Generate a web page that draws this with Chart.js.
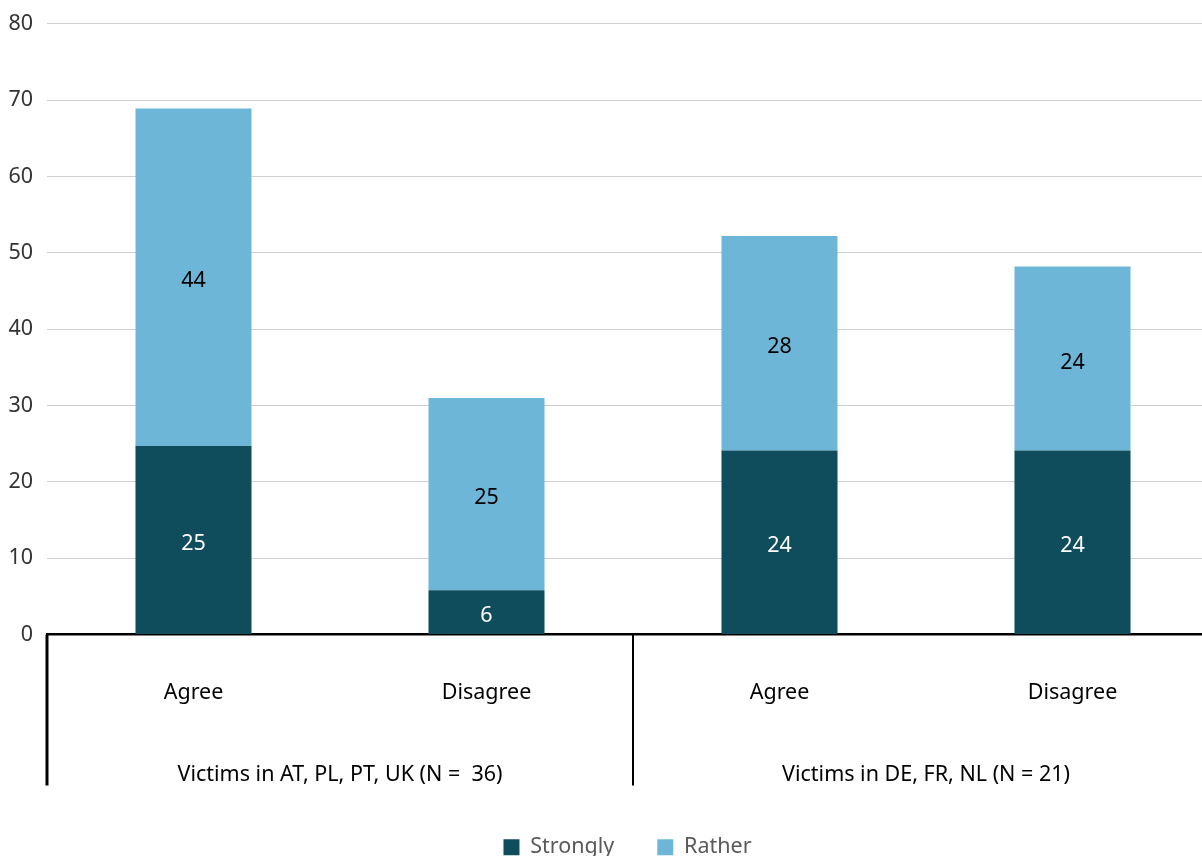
<!DOCTYPE html>
<html>
<head>
<meta charset="utf-8">
<script src="https://cdn.jsdelivr.net/npm/chart.js@4.4.1/dist/chart.umd.min.js"></script>
<style>
  html, body { margin: 0; padding: 0; overflow: hidden; background: #fff; }
  #myChart { display: block; margin-top: -3px; }
</style>
</head>
<body>
<canvas id="myChart" width="1262" height="871"></canvas>
<script>
const answers = ['Agree', 'Disagree', 'Agree', 'Disagree'];
const groups = ['Victims in AT, PL, PT, UK (N =  36)', 'Victims in DE, FR, NL (N = 21)'];
const stronglyValues = [24.7, 5.8, 24.1, 24.1];
const ratherValues = [44.2, 25.2, 28.1, 24.1];
const yTicks = [0, 10, 20, 30, 40, 50, 60, 70, 80];

const FONT = '"Noto Sans", sans-serif';
const SIZE = 21.5;

// numbers in the middle of each bar piece
const valueLabels = {
    id: 'valueLabels',
    afterDatasetsDraw(chart) {
        const c = chart.ctx;
        c.save();
        c.font = SIZE + 'px ' + FONT;
        c.textAlign = 'center';
        c.textBaseline = 'middle';
        chart.data.datasets.forEach((ds, i) => {
            const meta = chart.getDatasetMeta(i);
            c.fillStyle = i === 0 ? '#ffffff' : '#000000';
            meta.data.forEach((bar, j) => {
                c.fillText(Math.round(ds.data[j]), bar.x, (bar.y + bar.base) / 2 + 4);
            });
        });
        c.restore();
    }
};

// group row below the category labels
const groupAxis = {
    id: 'groupAxis',
    afterLayout(chart) {
        // legend sits centred under the plot, not the canvas
        chart.legend.left += 18;
        chart.legend.right += 18;
    },
    afterDraw(chart) {
        const c = chart.ctx;
        const x = chart.scales.x;
        const step = (x.right - x.left) / answers.length;
        const top = chart.chartArea.bottom;
        const bottom = top + 151;
        c.save();
        c.strokeStyle = '#000';
        [0, 2, 4].forEach((k, n) => {
            const px = x.left + step * k;
            c.lineWidth = n === 0 ? 3 : 2;
            c.beginPath();
            c.moveTo(px, top);
            c.lineTo(px, bottom);
            c.stroke();
        });
        c.font = SIZE + 'px ' + FONT;
        c.fillStyle = '#000';
        c.textAlign = 'center';
        c.textBaseline = 'middle';
        groups.forEach((g, n) => {
            c.fillText(g, x.left + step * (n * 2 + 1), top + 140);
        });
        c.restore();
    }
};

const ctx = document.getElementById('myChart').getContext('2d');
const myChart = new Chart(ctx, {
    type: 'bar',
    data: {
        labels: answers,
        datasets: [{
            label: 'Strongly',
            data: stronglyValues,
            backgroundColor: '#0f4c5c',
            categoryPercentage: 1,
            barPercentage: 0.396
        }, {
            label: 'Rather',
            data: ratherValues,
            backgroundColor: '#6db6d8',
            categoryPercentage: 1,
            barPercentage: 0.396
        }]
    },
    options: {
        responsive: false,
        animation: false,
        layout: { padding: { top: 5, right: 43, bottom: 0, left: 0 } },
        plugins: {
            tooltip: { enabled: false },
            legend: {
                position: 'bottom',
                labels: {
                    boxWidth: 16,
                    boxHeight: 16,
                    padding: 43,
                    color: '#595959',
                    font: { family: FONT, size: SIZE }
                }
            }
        },
        scales: {
            x: {
                stacked: true,
                grid: { display: false, drawTicks: false },
                border: { color: '#000', width: 2.5 },
                ticks: {
                    color: '#000',
                    padding: 45,
                    font: { family: FONT, size: SIZE }
                },
                afterFit(scale) { scale.height = 159; }
            },
            y: {
                stacked: true,
                min: 0,
                max: 80,
                afterBuildTicks(scale) { scale.ticks = yTicks.map(v => ({ value: v })); },
                grid: { color: '#d0d0d0', lineWidth: 1, drawTicks: false },
                border: { display: false },
                ticks: {
                    color: '#333',
                    padding: 14,
                    font: { family: FONT, size: SIZE }
                },
                afterFit(scale) { scale.width = 47; }
            }
        }
    },
    plugins: [valueLabels, groupAxis]
});
</script>
</body>
</html>
